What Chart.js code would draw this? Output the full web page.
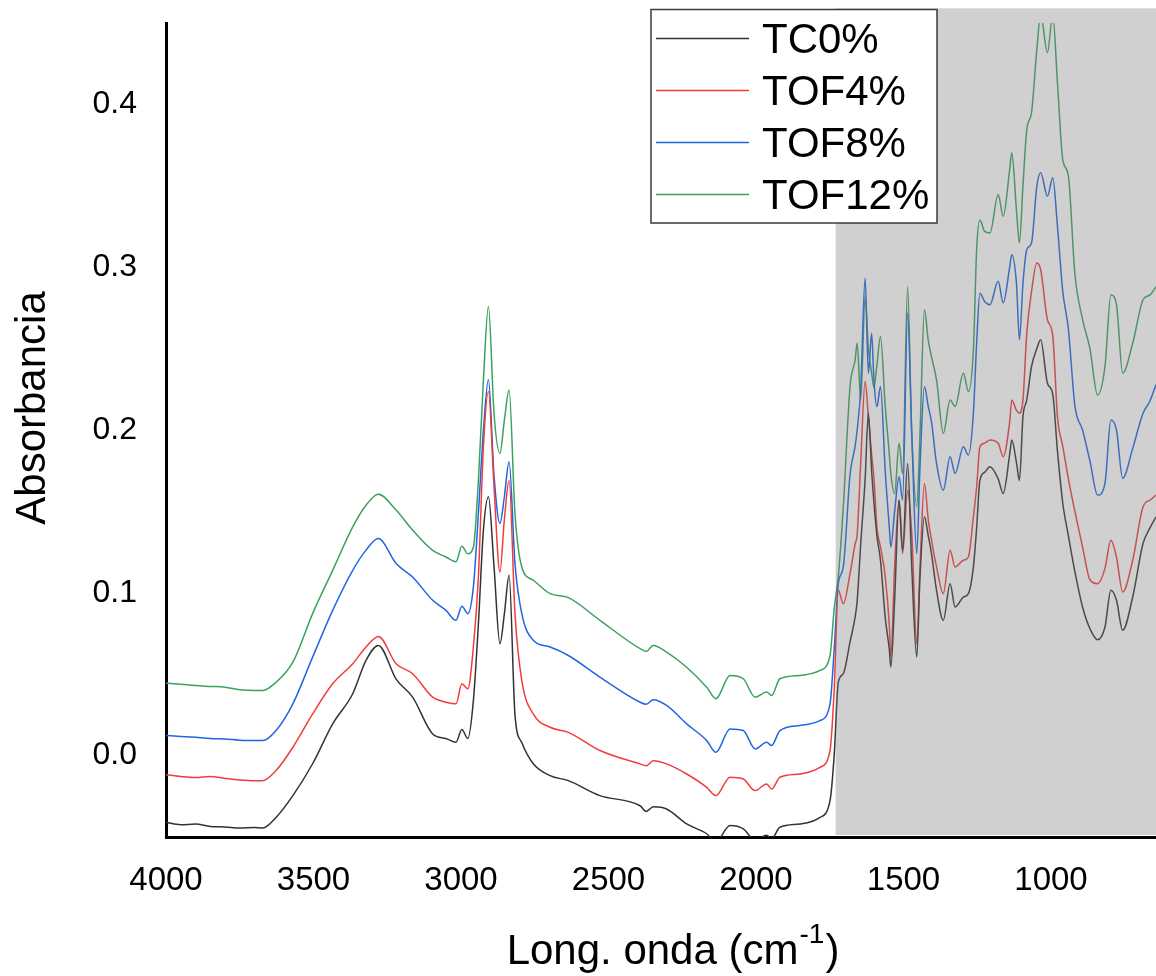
<!DOCTYPE html>
<html>
<head>
<meta charset="utf-8">
<script src="https://cdn.jsdelivr.net/npm/chart.js@4.4.1/dist/chart.umd.min.js"></script>
<style>
  html, body { margin: 0; padding: 0; background: #ffffff; }
  #wrap { width: 1156px; height: 976px; }
</style>
</head>
<body>
<div id="wrap"><canvas id="c" width="1156" height="976"></canvas></div>
<script>
// ---- data ----
const seriesLabels = ['TC0%', 'TOF4%', 'TOF8%', 'TOF12%'];
const xTickValues = [4000, 3500, 3000, 2500, 2000, 1500, 1000];
const yTickValues = [0.0, 0.1, 0.2, 0.3, 0.4];

const wavenumbers = [
  4000, 3950, 3900, 3850, 3800, 3750, 3700, 3672, 3627, 3570,
  3503, 3435, 3367, 3322, 3280, 3220, 3164, 3096, 3051, 3017,
  2997, 2977, 2958, 2941, 2924, 2907, 2888, 2868, 2853, 2837,
  2817, 2794, 2755, 2698, 2636, 2529, 2393, 2372, 2348, 2303,
  2235, 2167, 2136, 2088, 2043, 2003, 1964, 1947, 1919, 1851,
  1783, 1749, 1735, 1721, 1704, 1681, 1664, 1657, 1645, 1630,
  1619, 1608, 1600, 1590, 1578, 1562, 1548, 1543, 1530, 1515,
  1503, 1486, 1472, 1455, 1444, 1429, 1416, 1405, 1388, 1365,
  1342, 1325, 1297, 1280, 1263, 1252, 1241, 1225, 1207, 1179,
  1162, 1140, 1133, 1117, 1107, 1095, 1082, 1066, 1048, 1035,
  1012, 994, 978, 960, 941, 919, 893, 868, 842, 817,
  797, 778, 757, 723, 688, 664, 644
];

const tc0 = [
  -0.041, -0.0425, -0.042, -0.0435, -0.0438, -0.0445, -0.0442, -0.0445, -0.038, -0.0246,
  -0.005, 0.0195, 0.038, 0.0585, 0.0677, 0.047, 0.0359, 0.0133, 0.0105, 0.0082,
  0.016, 0.0105, 0.0338, 0.081, 0.1385, 0.159, 0.116, 0.0687, 0.087, 0.1108,
  0.025, 0.008, -0.005, -0.0123, -0.0154, -0.0246, -0.0308, -0.0343, -0.0314, -0.0328,
  -0.042, -0.048, -0.053, -0.043, -0.045, -0.052, -0.049, -0.051, -0.044, -0.042,
  -0.038, -0.0277, 0.000, 0.045, 0.0503, 0.070, 0.085, 0.095, 0.130, 0.170,
  0.2103, 0.175, 0.155, 0.135, 0.120, 0.0851, 0.065, 0.0543, 0.0954, 0.157,
  0.1262, 0.1795, 0.1159, 0.0605, 0.110, 0.1467, 0.135, 0.124, 0.1015, 0.0831,
  0.1056, 0.0913, 0.0974, 0.0995, 0.1159, 0.140, 0.169, 0.174, 0.1774, 0.170,
  0.161, 0.185, 0.1938, 0.180, 0.169, 0.2082, 0.2185, 0.239, 0.250, 0.2554,
  0.2287, 0.222, 0.187, 0.155, 0.135, 0.113, 0.0913, 0.078, 0.0712, 0.079,
  0.1015, 0.0954, 0.077, 0.0974, 0.1303, 0.140, 0.1467
];

const tof4 = [
  -0.0117, -0.0128, -0.0135, -0.0128, -0.014, -0.015, -0.0155, -0.0154, -0.0092, 0.0051,
  0.0256, 0.0441, 0.0564, 0.0667, 0.0732, 0.0564, 0.0503, 0.0359, 0.0328, 0.0318,
  0.0441, 0.041, 0.0667, 0.110, 0.1897, 0.2236, 0.165, 0.1128, 0.145, 0.169,
  0.0872, 0.0462, 0.0256, 0.0174, 0.0143, 0.0031, -0.0051, -0.0062, -0.0031, -0.0051,
  -0.0113, -0.0195, -0.0246, -0.0133, -0.0144, -0.0215, -0.0174, -0.0205, -0.0133, -0.0113,
  -0.0072, 0.0031, 0.040, 0.1015, 0.0933, 0.112, 0.130, 0.136, 0.180, 0.230,
  0.2082, 0.185, 0.170, 0.140, 0.1282, 0.110, 0.080, 0.0605, 0.1159, 0.157,
  0.1241, 0.163, 0.1364, 0.0687, 0.1159, 0.1672, 0.145, 0.1323, 0.1159, 0.0995,
  0.1262, 0.1159, 0.120, 0.122, 0.1467, 0.165, 0.1897, 0.192, 0.1938, 0.1918,
  0.1836, 0.205, 0.2185, 0.212, 0.2103, 0.2185, 0.2595, 0.285, 0.3026, 0.2985,
  0.2677, 0.258, 0.208, 0.190, 0.170, 0.150, 0.1282, 0.108, 0.1056, 0.115,
  0.1323, 0.122, 0.1005, 0.120, 0.1528, 0.157, 0.160
];

const tof8 = [
  0.0123, 0.0118, 0.0112, 0.0105, 0.0102, 0.0095, 0.0093, 0.0092, 0.0154, 0.0318,
  0.0605, 0.0892, 0.1138, 0.1262, 0.1333, 0.118, 0.1097, 0.0954, 0.0892, 0.0831,
  0.0917, 0.0872, 0.1036, 0.1487, 0.200, 0.2308, 0.172, 0.1426, 0.159, 0.1805,
  0.118, 0.0872, 0.0708, 0.0667, 0.0615, 0.0482, 0.0328, 0.0315, 0.0343, 0.0308,
  0.0195, 0.0092, 0.002, 0.0164, 0.0154, 0.0041, 0.0082, 0.0062, 0.0154, 0.0185,
  0.0215, 0.0318, 0.065, 0.1056, 0.1159, 0.173, 0.190, 0.200, 0.225, 0.2933,
  0.2349, 0.2595, 0.230, 0.2144, 0.2267, 0.175, 0.140, 0.1282, 0.150, 0.1713,
  0.157, 0.2718, 0.198, 0.1241, 0.1774, 0.2267, 0.2144, 0.205, 0.1795, 0.163,
  0.1836, 0.1733, 0.1897, 0.1846, 0.2104, 0.2533, 0.284, 0.279, 0.277, 0.2913,
  0.278, 0.300, 0.3077, 0.290, 0.2554, 0.290, 0.3108, 0.3149, 0.3497, 0.358,
  0.3436, 0.355, 0.325, 0.285, 0.262, 0.215, 0.200, 0.181, 0.160, 0.1672,
  0.2062, 0.200, 0.1703, 0.1887, 0.2103, 0.218, 0.228
];

const tof12 = [
  0.0445, 0.0438, 0.043, 0.0425, 0.042, 0.0405, 0.040, 0.040, 0.045, 0.0574,
  0.0872, 0.1138, 0.1405, 0.1538, 0.1606, 0.1508, 0.1385, 0.126, 0.122, 0.119,
  0.1286, 0.124, 0.128, 0.169, 0.2308, 0.2759, 0.210, 0.1857, 0.206, 0.2246,
  0.1487, 0.1159, 0.1077, 0.0995, 0.097, 0.0831, 0.0657, 0.064, 0.0677, 0.0636,
  0.0543, 0.042, 0.0349, 0.0492, 0.0472, 0.0359, 0.039, 0.0369, 0.0472, 0.0492,
  0.0523, 0.0615, 0.090, 0.110, 0.1528, 0.227, 0.243, 0.2535, 0.2185, 0.282,
  0.250, 0.235, 0.226, 0.240, 0.2574, 0.215, 0.185, 0.1733, 0.161, 0.1918,
  0.1733, 0.288, 0.198, 0.1528, 0.198, 0.2738, 0.255, 0.245, 0.2308, 0.198,
  0.2185, 0.2144, 0.2349, 0.2236, 0.249, 0.311, 0.329, 0.322, 0.321, 0.3446,
  0.3313, 0.360, 0.3703, 0.335, 0.3149, 0.350, 0.3846, 0.3949, 0.4338, 0.455,
  0.4318, 0.455, 0.413, 0.366, 0.356, 0.296, 0.268, 0.250, 0.2215, 0.239,
  0.283, 0.277, 0.2349, 0.2533, 0.280, 0.283, 0.288
];

// shaded region (wavenumber start, absorbance top)
const shadeFrom = 1730;
const shadeTop = 0.459;

// ---- styles ----
const FONT = "'Liberation Sans', Arial, Helvetica, sans-serif";
const colors = ['#333333', '#f23c3c', '#1f66e4', '#3ba25e'];
const seriesValues = [tc0, tof4, tof8, tof12];

const datasets = seriesLabels.map((lab, k) => ({
  label: lab,
  data: wavenumbers.map((w, i) => ({ x: w, y: seriesValues[k][i] })),
  borderColor: colors[k],
  backgroundColor: colors[k],
  borderWidth: 1.5,
  pointRadius: 0,
  cubicInterpolationMode: 'monotone',
  fill: false
}));

const shadePlugin = {
  id: 'shade',
  afterDatasetsDraw(chart) {
    const { ctx, chartArea, scales } = chart;
    const x0 = scales.x.getPixelForValue(shadeFrom);
    const y0 = scales.y.getPixelForValue(shadeTop);
    ctx.save();
    ctx.fillStyle = 'rgba(120,120,120,0.35)';
    ctx.fillRect(x0, y0, chartArea.right - x0, chartArea.bottom - 2 - y0);
    ctx.restore();
  }
};

const decorPlugin = {
  id: 'decor',
  afterDraw(chart) {
    const ctx = chart.ctx;
    ctx.save();
    // legend box
    const bx = 651, by = 9.5, bw = 286, bh = 213.5;
    ctx.fillStyle = '#ffffff';
    ctx.fillRect(bx, by, bw, bh);
    ctx.strokeStyle = '#3a3a3a';
    ctx.lineWidth = 1.5;
    ctx.strokeRect(bx, by, bw, bh);
    ctx.font = '42px ' + FONT;
    ctx.textAlign = 'left';
    ctx.textBaseline = 'alphabetic';
    chart.data.datasets.forEach((ds, i) => {
      const ly = 38.5 + i * 52;
      ctx.strokeStyle = ds.borderColor;
      ctx.lineWidth = 1.5;
      ctx.beginPath();
      ctx.moveTo(656, ly);
      ctx.lineTo(749, ly);
      ctx.stroke();
      ctx.fillStyle = '#000000';
      ctx.fillText(ds.label, 762, ly + 14.5);
    });

    // y axis title
    ctx.save();
    ctx.translate(45, 408);
    ctx.rotate(-Math.PI / 2);
    ctx.font = '42px ' + FONT;
    ctx.textAlign = 'center';
    ctx.textBaseline = 'alphabetic';
    ctx.fillStyle = '#000000';
    ctx.fillText('Absorbancia', 0, 0);
    ctx.restore();

    // x axis title with superscript
    const big = '42px ' + FONT, small = '28px ' + FONT;
    const p1 = 'Long. onda (cm', p2 = '-1', p3 = ')';
    ctx.font = big; const w1 = ctx.measureText(p1).width; const w3 = ctx.measureText(p3).width;
    ctx.font = small; const w2 = ctx.measureText(p2).width;
    const total = w1 + w2 + w3 + 2;
    let x = 673 - total / 2;
    const base = 964;
    ctx.fillStyle = '#000000';
    ctx.textAlign = 'left';
    ctx.font = big; ctx.fillText(p1, x, base); x += w1 + 1;
    ctx.font = small; ctx.fillText(p2, x, base - 21); x += w2 + 1;
    ctx.font = big; ctx.fillText(p3, x, base);
    ctx.restore();
  }
};

new Chart(document.getElementById('c'), {
  type: 'line',
  data: { datasets },
  options: {
    responsive: false,
    animation: false,
    devicePixelRatio: 1,
    layout: { padding: { top: 23, right: 0, bottom: 0, left: 0 } },
    plugins: { legend: { display: false }, tooltip: { enabled: false } },
    scales: {
      x: {
        type: 'linear',
        reverse: true,
        min: 644,
        max: 4000,
        grid: { display: false, drawTicks: false },
        border: { display: true, color: '#000000', width: 3 },
        afterBuildTicks: s => { s.ticks = xTickValues.map(v => ({ value: v })); },
        afterFit: s => { s.height = 139; s.paddingLeft = 0; s.paddingRight = 0; },
        ticks: {
          autoSkip: false,
          maxRotation: 0,
          padding: 24,
          color: '#000000',
          font: { family: FONT, size: 33 },
          callback: v => String(v)
        }
      },
      y: {
        type: 'linear',
        min: -0.05,
        max: 0.45,
        grid: { display: false, drawTicks: false },
        border: { display: true, color: '#000000', width: 3 },
        afterBuildTicks: s => { s.ticks = yTickValues.map(v => ({ value: v })); },
        afterFit: s => { s.width = 166; s.paddingTop = 0; s.paddingBottom = 0; },
        ticks: {
          padding: 29,
          color: '#000000',
          font: { family: FONT, size: 32 },
          callback: v => Number(v).toFixed(1)
        }
      }
    }
  },
  plugins: [shadePlugin, decorPlugin]
});
</script>
</body>
</html>
